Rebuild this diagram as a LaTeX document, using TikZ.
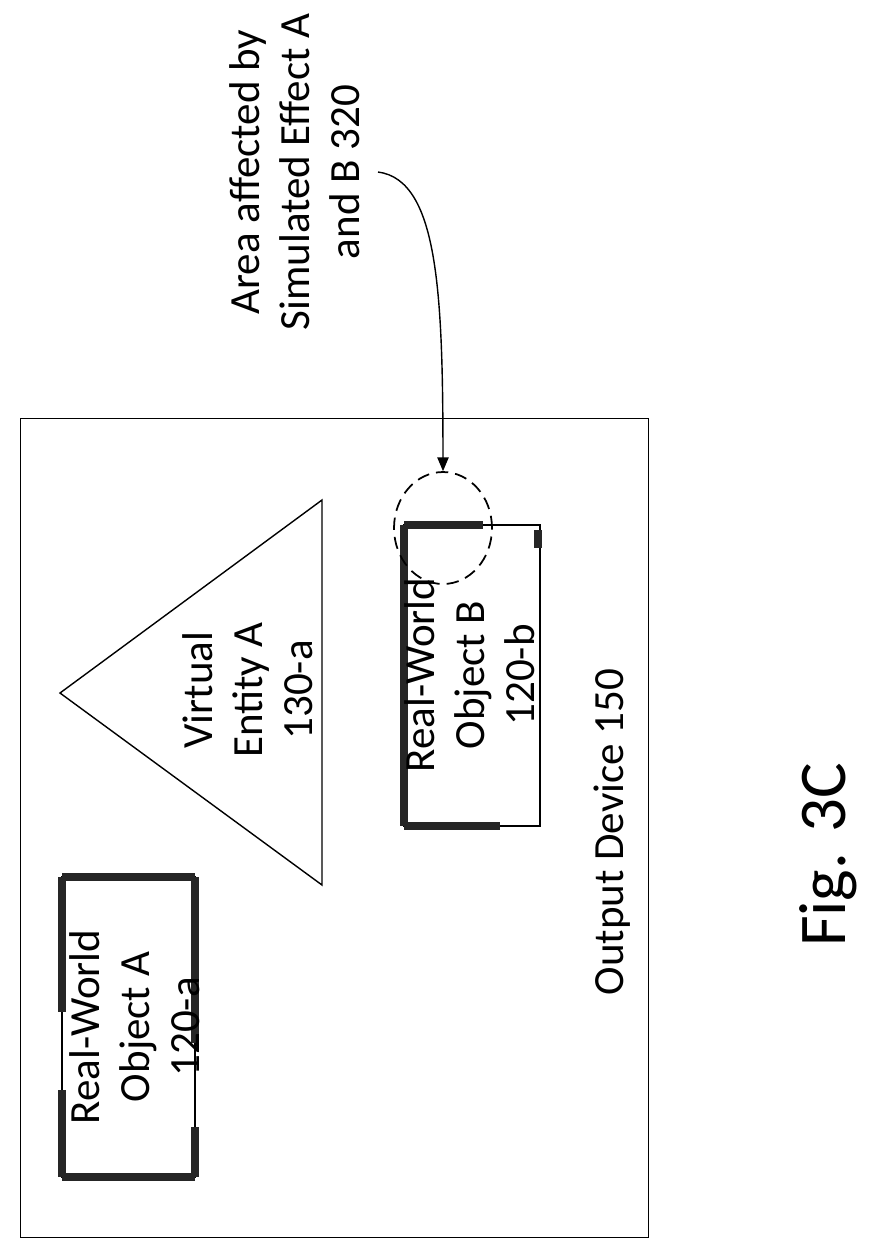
\documentclass[tikz,border=0pt]{standalone}
\usepackage{fontspec}
\setmainfont{Carlito}
\usetikzlibrary{shapes.geometric, arrows}
\tikzstyle{label} = [rotate=90, align=center, font=\fontsize{24.5}{28.5}\selectfont]
\tikzstyle{rim} = [line width=4.5pt, draw=black!85]
\tikzstyle{arrow} = [thick,->,>=triangle 45]

\begin{document}
\begin{tikzpicture}[x=0.02cm,y=-0.02cm,line width=0.8pt]
\useasboundingbox (0,0) rectangle (883,1259);
\node (dev) [draw, minimum width=12.56cm, minimum height=16.38cm, anchor=north west, inner sep=0] at (20,418) {};
\draw (60,693) -- (322,500) -- (322,885) -- cycle;
\node (virt) [label] at (248,690) {Virtual\\Entity A\\130-a};
% object A
\draw (62,877) rectangle (195,1177);
\draw [rim] (62,877) -- (195,877);
\draw [rim] (62,1177) -- (195,1177);
\draw [rim] (62,877) -- (62,1012);
\draw [rim] (62,1090) -- (62,1177);
\draw [rim] (195,877) -- (195,1043);
\draw [rim] (195,1127) -- (195,1177);
\node (objA) [label] at (135,1027) {Real-World\\Object A\\120-a};
% object B
\draw (404,525) rectangle (540,826);
\draw [rim] (404,525) -- (404,826);
\draw [rim] (404,525) -- (483,525);
\draw [rim] (404,826) -- (500,826);
\draw [rim] (538,530) -- (538,548);
\node (objB) [label] at (470,675) {Real-World\\Object B\\120-b};
\node (area) [draw, dash pattern=on 7pt off 4pt, line width=1pt, ellipse, minimum width=1.96cm, minimum height=2.24cm] at (443,528) {};
\node (out) [label] at (612,832) {Output Device 150};
\node (note) [label] at (295,172) {Area affected by\\Simulated Effect A\\and B 320};
\coordinate (start) at (378,172);
\draw [arrow] (start) .. controls (440,180) and (443,300) .. (area.north);
\node (fig) [rotate=90, font=\fontsize{38}{40}\selectfont] at (828,855) {Fig. 3C};
\end{tikzpicture}
\end{document}
